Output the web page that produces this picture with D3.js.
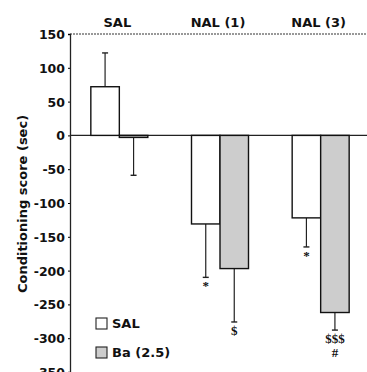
<!DOCTYPE html>
<html>
<head>
<meta charset="utf-8">
<script src="https://cdn.jsdelivr.net/npm/d3@7"></script>
<style>
  body { margin: 0; background: #fff; }
  svg text { font-family: "DejaVu Sans", sans-serif; font-weight: bold; fill: #111; }
</style>
</head>
<body>
<svg id="chart"></svg>
<script>
/* global d3 */

// data
var groups = ["SAL", "NAL (1)", "NAL (3)"];
var series = ["SAL", "Ba (2.5)"];
var salValues = [72, -131, -122];
var salErrors = [122, -210, -165];
var baValues = [-3, -197, -262];
var baErrors = [-59, -276, -288];
var salMarks = ["", "*", "*"];
var baMarks = ["", "$", "$$$\n#"];
var yTicks = [150, 100, 50, 0, -50, -100, -150, -200, -250, -300, -350];

var width = 367,
  height = 372,
  margin = { top: 34, left: 70 };

var svg = d3.select("#chart")
  .attr("width", width)
  .attr("height", height);

var y = d3.scaleLinear()
  .domain([-350, 150])
  .range([372, margin.top]);

var x0 = d3.scaleBand()
  .domain(groups)
  .range([69, 371]);

var barW = 28.5;
var x1 = d3.scaleBand()
  .domain(series)
  .range([x0.bandwidth() / 2 - barW, x0.bandwidth() / 2 + barW]);

var rows = [];
groups.forEach(function (g, i) {
  rows.push({ group: g, s: series[0], v: salValues[i], e: salErrors[i], mark: salMarks[i] });
  rows.push({ group: g, s: series[1], v: baValues[i], e: baErrors[i], mark: baMarks[i] });
});

var fillOf = function (s) { return s === series[0] ? "#fff" : "#cdcdcd"; };

// frame: top dotted line
svg.append("line")
  .attr("x1", margin.left).attr("x2", width)
  .attr("y1", y(150)).attr("y2", y(150))
  .attr("stroke", "#333").attr("stroke-width", 1)
  .attr("stroke-dasharray", "2,1");

// left axis (plain hyphens like the original)
var yAxis = d3.axisLeft(y)
  .tickValues(yTicks)
  .tickFormat(function (d) { return String(d); })
  .tickSize(2)
  .tickPadding(3);
var ga = svg.append("g")
  .attr("transform", "translate(" + margin.left + ",0)")
  .call(yAxis);
ga.select(".domain").attr("stroke", "#222").attr("stroke-width", 1.3);
ga.selectAll("text")
  .style("font-family", "'DejaVu Sans', sans-serif")
  .style("font-size", "12.5px")
  .attr("dy", "0.36em");

// zero line
svg.append("line")
  .attr("x1", margin.left).attr("x2", width)
  .attr("y1", y(0)).attr("y2", y(0))
  .attr("stroke", "#222").attr("stroke-width", 1.4);

// group label headers
svg.selectAll(".glabel")
  .data(groups)
  .enter().append("text")
  .attr("class", "glabel")
  .attr("x", function (d) { return x0(d) + x0.bandwidth() / 2 - 2; })
  .attr("y", 27)
  .attr("text-anchor", "middle")
  .style("font-size", "13px")
  .text(function (d) { return d; });

// error bars
var err = svg.selectAll(".err")
  .data(rows)
  .enter().append("g")
  .attr("class", "err");
err.append("line")
  .attr("x1", function (d) { return x0(d.group) + x1(d.s) + barW / 2; })
  .attr("x2", function (d) { return x0(d.group) + x1(d.s) + barW / 2; })
  .attr("y1", function (d) { return y(d.v); })
  .attr("y2", function (d) { return y(d.e); })
  .attr("stroke", "#222").attr("stroke-width", 1.2);
err.append("line")
  .attr("x1", function (d) { return x0(d.group) + x1(d.s) + barW / 2 - 3; })
  .attr("x2", function (d) { return x0(d.group) + x1(d.s) + barW / 2 + 3; })
  .attr("y1", function (d) { return y(d.e); })
  .attr("y2", function (d) { return y(d.e); })
  .attr("stroke", "#222").attr("stroke-width", 1.4);

// bars
svg.selectAll(".bar")
  .data(rows)
  .enter().append("rect")
  .attr("class", "bar")
  .attr("x", function (d) { return x0(d.group) + x1(d.s); })
  .attr("width", barW)
  .attr("y", function (d) { return y(Math.max(0, d.v)); })
  .attr("height", function (d) { return Math.abs(y(d.v) - y(0)); })
  .attr("fill", function (d) { return fillOf(d.s); })
  .attr("stroke", "#111")
  .attr("stroke-width", 1.4);

// significance marks
var marks = svg.selectAll(".mark")
  .data(rows.filter(function (d) { return d.mark; }))
  .enter().append("text")
  .attr("class", "mark")
  .attr("x", function (d) { return x0(d.group) + x1(d.s) + barW / 2; })
  .attr("y", function (d) { return y(d.e) + 13; })
  .attr("text-anchor", "middle")
  .style("font-size", "13px")
  .style("font-family", "'Liberation Serif', serif");
marks.selectAll("tspan")
  .data(function (d) { return d.mark.split("\n"); })
  .enter().append("tspan")
  .attr("x", function () { return d3.select(this.parentNode).attr("x"); })
  .attr("dy", function (d, i) { return i ? 14 : 0; })
  .text(function (d) { return d; });

// y axis title
svg.append("text")
  .attr("transform", "translate(27,204) rotate(-90)")
  .attr("text-anchor", "middle")
  .style("font-size", "13px")
  .text("Conditioning score (sec)");

// legend
var legend = svg.append("g")
  .attr("transform", "translate(96,318)");
var li = legend.selectAll(".li")
  .data(series)
  .enter().append("g")
  .attr("class", "li")
  .attr("transform", function (d, i) { return "translate(0," + (i * 29) + ")"; });
li.append("rect")
  .attr("width", 11).attr("height", 11)
  .attr("fill", fillOf)
  .attr("stroke", "#222").attr("stroke-width", 1.1);
li.append("text")
  .attr("x", 16).attr("y", 10)
  .style("font-size", "13px")
  .text(function (d) { return d; });
</script>
</body>
</html>
